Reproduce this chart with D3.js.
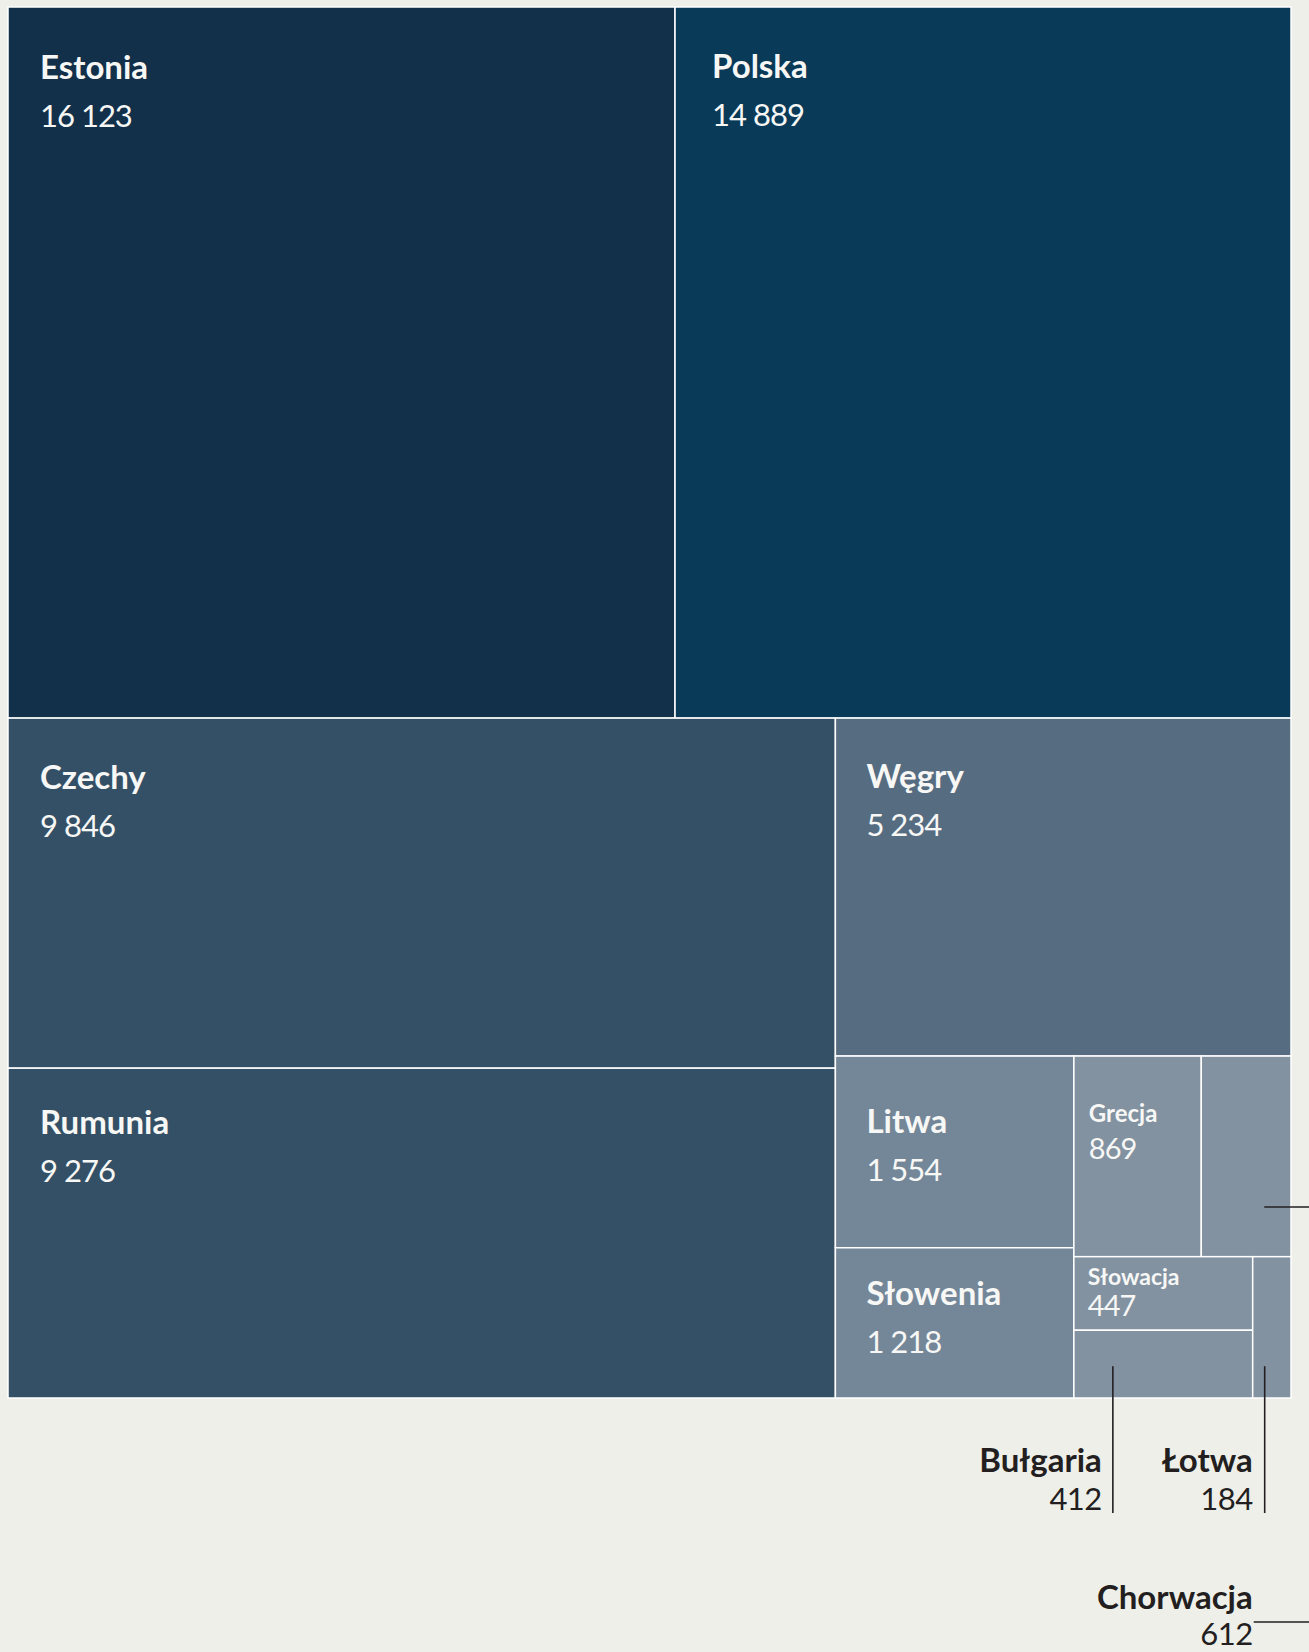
<!DOCTYPE html>
<html>
<head>
<meta charset="utf-8">
<script src="https://cdn.jsdelivr.net/npm/d3@7"></script>
<style>
  html, body { margin: 0; padding: 0; background: #efefea; }
  svg { display: block; font-family: Lato, 'Open Sans', sans-serif; }
</style>
</head>
<body>
<svg id="chart" width="1309" height="1652"></svg>
<script>
// data
const countries = ['Estonia', 'Polska', 'Czechy', 'Rumunia', 'Węgry', 'Litwa', 'Słowenia', 'Grecja', 'Chorwacja', 'Słowacja', 'Bułgaria', 'Łotwa'];
const values = [16123, 14889, 9846, 9276, 5234, 1554, 1218, 869, 612, 447, 412, 184];
const groups = ['a', 'b', 'c', 'c', 'd', 'e', 'e', 'f', 'f', 'f', 'f', 'f'];

const colour = d3.scaleOrdinal()
  .domain(['a', 'b', 'c', 'd', 'e', 'f'])
  .range(['#13304a', '#093a58', '#345066', '#566c81', '#748799', '#8292a1']);

// how labels are placed
const inside = { Estonia: 'big', Polska: 'big', Czechy: 'big', Rumunia: 'big', 'Węgry': 'big', Litwa: 'big', 'Słowenia': 'big', Grecja: 'small', 'Słowacja': 'tiny' };
const labelDy = { Estonia: 72, Polska: 71, Czechy: 71, Rumunia: 66, 'Węgry': 70, Litwa: 77, 'Słowenia': 57, Grecja: 66, 'Słowacja': 28 };
const labelDx = { Estonia: 32, Polska: 37, Czechy: 32, Rumunia: 32, 'Węgry': 31, Litwa: 31, 'Słowenia': 31, Grecja: 15, 'Słowacja': 14 };

const pl = d3.formatLocale({ decimal: ',', thousands: ' ', grouping: [3], currency: ['', ''] });
const fmt = pl.format(',d');

const margin = { left: 8, top: 7 };
const width = 1283, height = 1391;

const root = d3.hierarchy({ children: countries.map((c, i) => ({ name: c, value: values[i], group: groups[i] })) })
  .sum(d => d.value || 0)
  .sort((a, b) => b.value - a.value);

d3.treemap().size([width, height]).tile(d3.treemapSquarify).round(false)(root);

const svg = d3.select('#chart');
const chart = svg.append('g').attr('transform', 'translate(' + margin.left + ',' + margin.top + ')');

const cell = chart.selectAll('g.cell')
  .data(root.leaves())
  .enter()
  .append('g')
  .attr('class', 'cell')
  .attr('transform', d => 'translate(' + d.x0 + ',' + d.y0 + ')');

cell.append('rect')
  .attr('width', d => d.x1 - d.x0)
  .attr('height', d => d.y1 - d.y0)
  .style('fill', d => colour(d.data.group))
  .style('stroke', '#fff')
  .style('stroke-width', 1.5);

const sizes = {
  big: { name: 33, num: 31, gap: 48 },
  small: { name: 24, num: 29, gap: 37 },
  tiny: { name: 23, num: 29, gap: 31 },
};

cell.filter(d => inside[d.data.name])
  .each(function (d) {
    const s = sizes[inside[d.data.name]];
    const g = d3.select(this);
    const x = labelDx[d.data.name];
    const y = labelDy[d.data.name];
    g.append('text')
      .attr('x', x).attr('y', y)
      .style('fill', '#f7f7f5')
      .style('font-weight', 700)
      .style('font-size', s.name + 'px')
      .text(d.data.name);
    g.append('text')
      .attr('x', x).attr('y', y + s.gap)
      .style('fill', '#f7f7f5')
      .style('font-size', s.num + 'px')
      .style('letter-spacing', '-1px')
      .text(fmt(d.data.value));
  });

// callouts for the smallest cells
const leaf = name => root.leaves().find(d => d.data.name === name);
const ink = '#231f20';

function calloutLabel(name, xRight, yBase, gap) {
  const d = leaf(name);
  chart.append('text')
    .attr('x', xRight).attr('y', yBase)
    .attr('text-anchor', 'end')
    .style('fill', ink).style('font-weight', 700).style('font-size', '33px')
    .text(name);
  chart.append('text')
    .attr('x', xRight).attr('y', yBase + gap)
    .attr('text-anchor', 'end')
    .style('fill', ink).style('font-size', '31px').style('letter-spacing', '-0.5px')
    .text(fmt(d.value));
}

function line(x1, y1, x2, y2) {
  chart.append('line')
    .attr('x1', x1).attr('y1', y1).attr('x2', x2).attr('y2', y2)
    .style('stroke', ink).style('stroke-width', 1.6);
}

const bg = leaf('Bułgaria');
line(bg.x0 + 39, bg.y0 + 36, bg.x0 + 39, height + 115);
calloutLabel('Bułgaria', bg.x0 + 28, height + 74, 38);

const lt = leaf('Łotwa');
line(lt.x0 + 12, bg.y0 + 36, lt.x0 + 12, height + 115);
calloutLabel('Łotwa', lt.x0, height + 74, 38);

const hr = leaf('Chorwacja');
line(hr.x0 + 63, hr.y0 + 151, 1320, hr.y0 + 151);
line(lt.x0 + 1, height + 224, 1320, height + 224);
calloutLabel('Chorwacja', lt.x0, height + 211, 36);
</script>
</body>
</html>
